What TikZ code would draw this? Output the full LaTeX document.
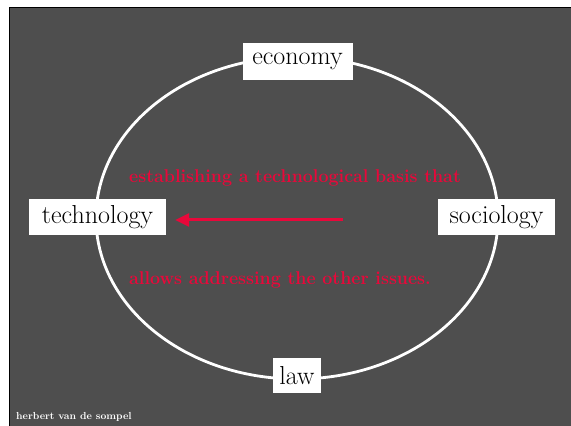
\documentclass[tikz,border=0pt]{standalone}
\usetikzlibrary{arrows.meta}
\definecolor{bggray}{RGB}{78,78,78}
\definecolor{crim}{RGB}{232,8,58}
\tikzset{
  label box/.style={fill=white, text=black, inner sep=0pt, font=\fontsize{26}{30}\selectfont},
  red text/.style={text=crim, inner sep=0pt, font=\fontsize{18.5}{22}\selectfont\bfseries},
  ring/.style={draw=white, line width=2.8pt},
}
\begin{document}
\begin{tikzpicture}[x=1pt,y=1pt]
\useasboundingbox (0,0) rectangle (571,426);
\fill[white] (0,0) rectangle (571,426);
\draw[fill=bggray, draw=black, line width=1.6pt] (9.5,-2) rectangle (573,418.5);
\draw[ring] (297,208) ellipse [x radius=201, y radius=161];
\node[label box, minimum width=110pt, minimum height=37pt] (econ) at (297.5,364.5) {economy};
\node[label box, minimum width=137pt, minimum height=36pt] (tech) at (97.5,209) {technology};
\node[label box, minimum width=117pt, minimum height=36pt] (soc) at (496.5,209) {sociology};
\node[label box, minimum width=48pt, minimum height=35pt] (law) at (297,50.5) {law};
\node[red text, anchor=west] (t1) at (129,248) {\scalebox{0.965}[1]{establishing a technological basis that}};
\node[red text, anchor=west] (t2) at (129,146) {\scalebox{0.965}[1]{allows addressing the other issues.}};
\coordinate (start) at (343,206);
\draw[crim, line width=3pt, -{Triangle[length=14pt,width=13pt]}, shorten >=9pt] (start) -- (tech.east |- start);
\node[anchor=base west, text=white, inner sep=0pt, font=\fontsize{10.2}{12}\selectfont\bfseries] (author) at (16,6) {herbert van de sompel};
\end{tikzpicture}
\end{document}
